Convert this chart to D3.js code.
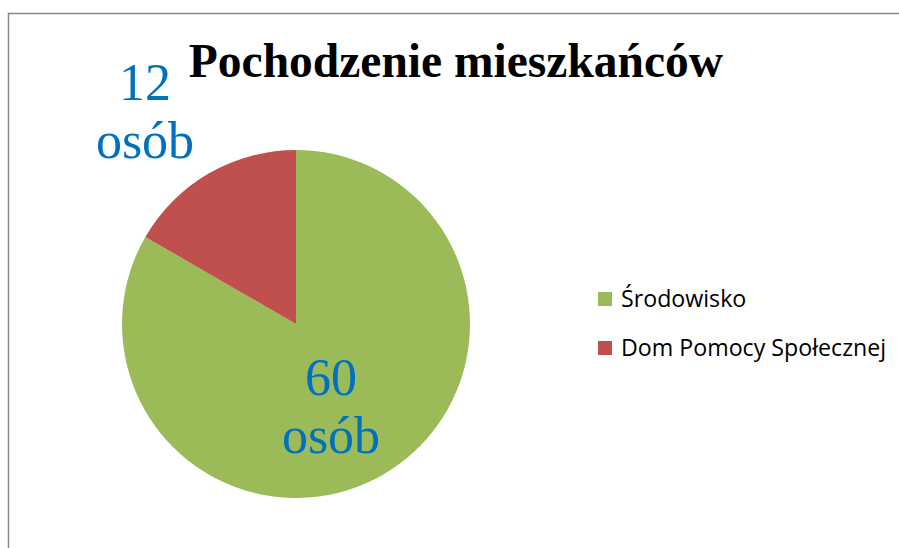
<!DOCTYPE html>
<html>
<head>
<meta charset="utf-8">
<script src="https://cdn.jsdelivr.net/npm/d3@7"></script>
<style>
  body { margin: 0; background: #fff; }
</style>
</head>
<body>
<script>
var categories = ["Środowisko", "Dom Pomocy Społecznej"];
var values = [60, 12];
var labels = ["60 osób", "12 osób"];
var colors = ["#9BBB59", "#C0504D"];

var width = 899, height = 548;
var svg = d3.select("body").append("svg")
    .attr("width", width).attr("height", height);

// chart frame
svg.append("rect")
    .attr("x", 8.5).attr("y", 13.5)
    .attr("width", 900).attr("height", 545)
    .attr("fill", "#fff").attr("stroke", "#888").attr("stroke-width", 1.5);

svg.append("text")
    .attr("x", 456).attr("y", 77)
    .attr("text-anchor", "middle")
    .attr("font-family", "Liberation Serif, Times New Roman, serif")
    .attr("font-weight", "bold").attr("font-size", 47.5)
    .text("Pochodzenie mieszkańców");

var cx = 296, cy = 324, r = 174;
var pie = d3.pie().sort(null);
var arc = d3.arc().innerRadius(0).outerRadius(r);
var arcs = pie(values);

var g = svg.append("g").attr("transform", "translate(" + cx + "," + cy + ")");
g.selectAll("path").data(arcs).enter()
    .append("path")
    .attr("d", arc)
    .attr("fill", function(d, i) { return colors[i]; });

// data labels
var labelPos = [[35, 71], [-151, -224]];
svg.selectAll("text.lbl").data(arcs).enter()
    .append("text")
    .attr("class", "lbl")
    .attr("text-anchor", "middle")
    .attr("font-family", "Liberation Serif, Times New Roman, serif")
    .attr("font-size", 52)
    .attr("fill", "#0070C0")
    .each(function(d, i) {
        var t = d3.select(this);
        var parts = labels[i].split(" ");
        var x = cx + labelPos[i][0], y = cy + labelPos[i][1];
        t.append("tspan").attr("x", x).attr("y", y).text(parts[0]);
        t.append("tspan").attr("x", x).attr("y", y + 58).text(parts[1]);
    });

// legend
var legend = svg.append("g").attr("transform", "translate(598,292)");
var item = legend.selectAll("g").data(categories).enter()
    .append("g")
    .attr("transform", function(d, i) { return "translate(0," + (i * 49) + ")"; });
item.append("rect")
    .attr("width", 14).attr("height", 14)
    .attr("fill", function(d, i) { return colors[i]; });
item.append("text")
    .attr("x", 23).attr("y", 15)
    .attr("font-family", "Open Sans, Lato, sans-serif")
    .attr("font-size", 23.2)
    .text(function(d) { return d; });
</script>
</body>
</html>
